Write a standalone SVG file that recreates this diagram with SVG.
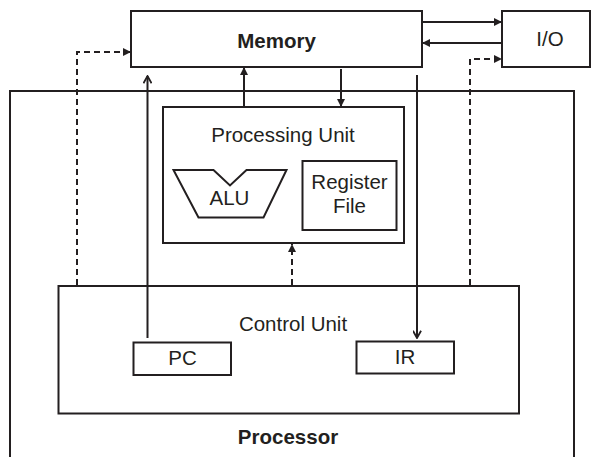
<svg xmlns="http://www.w3.org/2000/svg" width="591" height="457" viewBox="0 0 591 457">
  <defs>
    <marker id="head" viewBox="0 0 10 10" refX="10" refY="5" markerWidth="8" markerHeight="8" markerUnits="userSpaceOnUse" orient="auto">
      <path d="M0,0 L10,5 L0,10 Z" fill="#231f20"/>
    </marker>
    <marker id="open" viewBox="0 0 10 10" refX="9" refY="5" markerWidth="9" markerHeight="9" markerUnits="userSpaceOnUse" orient="auto">
      <path d="M1,0.5 L9,5 L1,9.5" fill="none" stroke="#231f20" stroke-width="2"/>
    </marker>
  </defs>
  <style>
    .box { fill: none; stroke: #231f20; stroke-width: 2; }
    .wire { fill: none; stroke: #231f20; stroke-width: 2; }
    .dash { stroke-dasharray: 6 4; }
    .lbl { font-family: "Liberation Sans", Arial, sans-serif; font-size: 20.5px; fill: #231f20; text-anchor: middle; }
    .bold { font-weight: bold; }
  </style>
  <rect width="591" height="457" fill="#ffffff"/>

  <!-- processor outline, open at the bottom -->
  <g id="processor">
    <path class="box" d="M10,457 L10,91 L574,91 L574,457"/>
    <text class="lbl bold" x="288" y="444">Processor</text>
  </g>

  <g id="memory">
    <rect class="box" x="131" y="11" width="291" height="56"/>
    <text class="lbl bold" x="276.5" y="48">Memory</text>
  </g>

  <g id="io">
    <rect class="box" x="502" y="11" width="88" height="56"/>
    <text class="lbl" x="550" y="46">I/O</text>
  </g>

  <g id="processing-unit">
    <rect class="box" x="163" y="107" width="241" height="136"/>
    <text class="lbl" x="283" y="142">Processing Unit</text>
  </g>

  <g id="alu">
    <path class="box" d="M173.5,170 L213.5,170 L230,185.5 L246.5,170 L286.5,170 L263.5,217.5 L198.5,217.5 Z"/>
    <text class="lbl" x="229.5" y="205">ALU</text>
  </g>

  <g id="register-file">
    <rect class="box" x="302.5" y="161" width="94" height="69"/>
    <text class="lbl" x="349.5" y="189">Register</text>
    <text class="lbl" x="349.5" y="213">File</text>
  </g>

  <g id="control-unit">
    <rect class="box" x="58.5" y="286" width="460.5" height="127.5"/>
    <text class="lbl" x="293" y="331">Control Unit</text>
  </g>

  <g id="pc">
    <rect class="box" x="133.5" y="342.5" width="97.5" height="32.5"/>
    <text class="lbl" x="182.5" y="365">PC</text>
  </g>

  <g id="ir">
    <rect class="box" x="356.5" y="341.5" width="97.5" height="32"/>
    <text class="lbl" x="405" y="364">IR</text>
  </g>

  <g id="connectors">
    <line class="wire" x1="422" y1="22" x2="502" y2="22" marker-end="url(#head)"/>
    <line class="wire" x1="502" y1="43" x2="422" y2="43" marker-end="url(#head)"/>
    <polyline class="wire dash" points="470,285 470,59 502,59" marker-end="url(#head)"/>
    <polyline class="wire dash" points="77,285 77,52 131,52" marker-end="url(#head)"/>
    <line class="wire" x1="147.5" y1="338" x2="147.5" y2="76" marker-end="url(#open)"/>
    <line class="wire" x1="417" y1="75" x2="417" y2="338" marker-end="url(#open)"/>
    <line class="wire" x1="244" y1="107" x2="244" y2="67" marker-end="url(#head)"/>
    <line class="wire" x1="341" y1="69" x2="341" y2="107" marker-end="url(#head)"/>
    <line class="wire dash" x1="292" y1="285" x2="292" y2="244" marker-end="url(#head)"/>
  </g>
</svg>
